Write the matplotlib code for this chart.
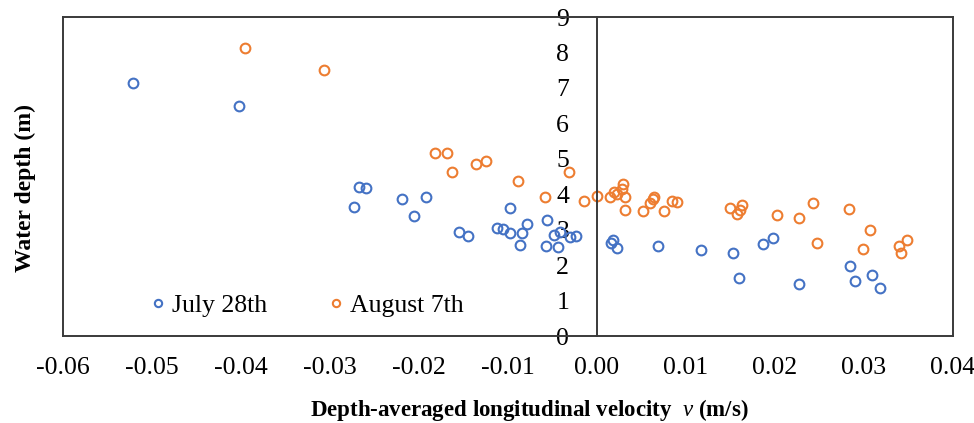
import matplotlib
matplotlib.use("Agg")
import matplotlib.pyplot as plt
from matplotlib.lines import Line2D

plt.rcParams['font.family'] = ['Liberation Serif', 'DejaVu Serif']
plt.rcParams['mathtext.fontset'] = 'custom'
plt.rcParams['mathtext.rm'] = 'Liberation Serif'
plt.rcParams['mathtext.it'] = 'Liberation Serif:italic'
plt.rcParams['mathtext.bf'] = 'Liberation Serif:bold'

# July 28th
july_v = [-0.0521, -0.0402, -0.0267, -0.0260, -0.0273, -0.0219, -0.0192, -0.0206,
          -0.0155, -0.0145, -0.0112, -0.0106, -0.0098, -0.0098, -0.0079, -0.0084,
          -0.0087, -0.0056, -0.0057, -0.0044, -0.0048, -0.0042, -0.0030, -0.0024,
          0.0016, 0.0018, 0.0023, 0.0068, 0.0117, 0.0153, 0.0160, 0.0186, 0.0198,
          0.0227, 0.0284, 0.0290, 0.0309, 0.0318]
july_d = [7.15, 6.50, 4.20, 4.18, 3.63, 3.86, 3.93, 3.38,
          2.93, 2.82, 3.06, 3.03, 2.92, 3.62, 3.16, 2.91,
          2.56, 3.27, 2.54, 2.52, 2.84, 2.94, 2.78, 2.83,
          2.62, 2.70, 2.47, 2.55, 2.42, 2.35, 1.64, 2.59, 2.77,
          1.47, 1.98, 1.55, 1.71, 1.35]

# August 7th
aug_v = [-0.0396, -0.0307, -0.0182, -0.0169, -0.0163, -0.0136, -0.0125, -0.0089,
         -0.0032, -0.0058, -0.0015, 0.0000, 0.0015, 0.0019, 0.0022, 0.0029,
         0.0028, 0.0031, 0.0031, 0.0052, 0.0060, 0.0063, 0.0064, 0.0075,
         0.0084, 0.0090, 0.0149, 0.0163, 0.0161, 0.0157, 0.0202, 0.0227,
         0.0243, 0.0283, 0.0247, 0.0307, 0.0299, 0.0339, 0.0348, 0.0342]
aug_d = [8.13, 7.51, 5.17, 5.17, 4.64, 4.86, 4.93, 4.37,
         4.62, 3.91, 3.82, 3.96, 3.91, 4.05, 4.02, 4.28,
         4.16, 3.91, 3.56, 3.54, 3.74, 3.86, 3.91, 3.53,
         3.82, 3.77, 3.62, 3.71, 3.56, 3.44, 3.41, 3.34,
         3.76, 3.58, 2.63, 2.98, 2.45, 2.55, 2.71, 2.35]

x_ticks = [-0.06, -0.05, -0.04, -0.03, -0.02, -0.01, 0.00, 0.01, 0.02, 0.03, 0.04]
y_ticks = [0, 1, 2, 3, 4, 5, 6, 7, 8, 9]

blue = '#4472C4'
orange = '#ED7D31'
spine_c = '#3a3a3a'

fig = plt.figure(figsize=(9.74, 4.23), dpi=100)
ax = fig.add_axes([63/974, 1-336/423, (953-63)/974, (336-17)/423])

ax.plot(july_v, july_d, 'o', mfc='none', mec=blue, ms=7, mew=1.5, ls='none', label='July 28th')
ax.plot(aug_v, aug_d, 'o', mfc='none', mec=orange, ms=7, mew=1.5, ls='none', label='August 7th')

ax.set_xlim(-0.06, 0.04)
ax.set_ylim(0, 9)
ax.set_xticks(x_ticks)
ax.set_xticklabels([f"{t:.2f}" for t in x_ticks])
ax.set_yticks(y_ticks)
ax.set_yticklabels([str(t) for t in y_ticks])
ax.tick_params(axis='both', length=0, labelsize=18.5, colors='black')
ax.tick_params(axis='x', pad=15)
ax.tick_params(axis='y', pad=20)

for s in ['top', 'bottom', 'right', 'left']:
    ax.spines[s].set_color(spine_c)
    ax.spines[s].set_linewidth(1.4)
ax.spines['left'].set_position(('data', 0))
ax.add_line(Line2D([0, 0], [0, 1], transform=ax.transAxes, color=spine_c, lw=1.4, clip_on=False))

leg = ax.legend(loc='lower left', bbox_to_anchor=(0.068, -0.012), ncol=2, frameon=False,
                fontsize=18.5, handletextpad=0.1, columnspacing=2.2, handlelength=0.9,
                markerscale=0.75)

fig.text(529/974, 1-410/423, r"Depth-averaged longitudinal velocity  $\it{v}$ (m/s)",
         ha='center', va='center', fontsize=16.5, fontweight='bold')
fig.text(25/974, 1-188/423, "Water depth (m)", ha='center', va='center', rotation=90,
         fontsize=17, fontweight='bold')

fig.savefig('out.png', dpi=100)
